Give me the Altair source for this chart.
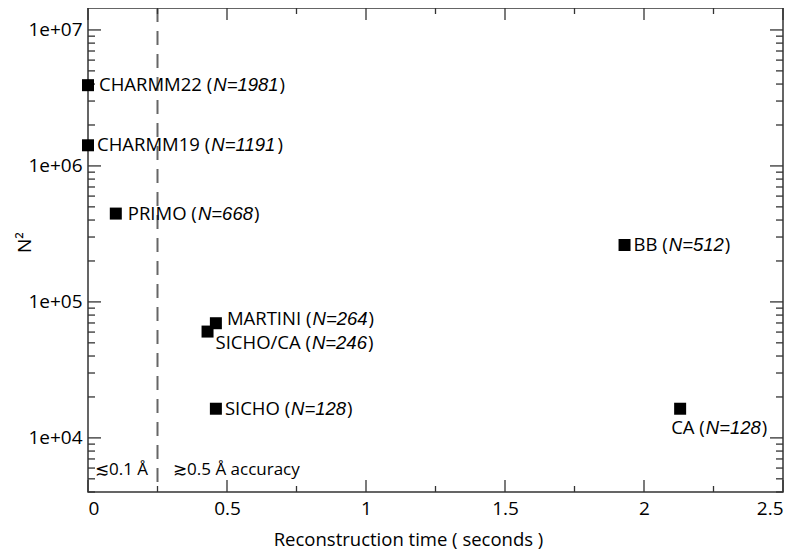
import altair as alt
import pandas as pd

# ---------------- data ----------------
names = ["CHARMM22", "CHARMM19", "PRIMO", "MARTINI", "SICHO/CA", "SICHO", "BB", "CA"]
atoms = [1981, 1191, 668, 264, 246, 128, 512, 128]          # N
times = [0.0, 0.0, 0.1, 0.46, 0.43, 0.46, 1.93, 2.13]        # reconstruction time (s)

y_major = [1e4, 1e5, 1e6, 1e7]
y_minor = [k * 10 ** d for d in range(3, 8) for k in range(2, 10) if 4000 <= k * 10 ** d <= 1.45e7]
x_major = [0, 0.5, 1, 1.5, 2, 2.5]
x_minor = [0.25, 0.75, 1.25, 1.75, 2.25]
cut_x = [0.25]
ann_text = ["≲0.1 Å", "≳0.5 Å accuracy"]
ann_x = [0.025, 0.306]
ann_y = [5800, 5800]

# ---------------- style ----------------
FONT = "Open Sans"
IFONT = "Liberation Sans"
FS = 18.5
W, H = 695, 484

# label offsets (px) : dx, dy
label_off = {
    "CHARMM22": (11, 0), "CHARMM19": (9, 0), "PRIMO": (12, 0), "MARTINI": (11, -4),
    "SICHO/CA": (8, 11), "SICHO": (9, 0), "BB": (9, 0), "CA": (-9, 19),
}

EM = {" ": 0.26, "(": 0.296, ")": 0.296, "/": 0.367, "=": 0.572, "A": 0.633, "B": 0.648,
      "C": 0.631, "H": 0.738, "I": 0.279, "M": 0.903, "N": 0.752, "O": 0.781, "P": 0.602,
      "R": 0.617, "S": 0.539, "T": 0.556}
IEM = {"N": 0.722, "=": 0.584}
def tw(s):
    return sum(EM.get(c, 0.572) for c in s) * FS
def itw(s):
    return sum(IEM.get(c, 0.556) for c in s) * FS

df = pd.DataFrame({"name": names, "N": atoms, "time": times})

xscale = alt.Scale(domain=[0, 2.5], nice=False, zero=False)
yscale = alt.Scale(type="log", domain=[4000, 1.45e7], nice=False)
xaxis = alt.Axis(values=x_major, format="~g", tickSize=0, domain=False, grid=False,
                 labelFont=FONT, labelFontSize=19, labelColor="black", labelPadding=7,
                 title="Reconstruction time ( seconds )", titleFont=FONT, titleFontSize=18.5,
                 titleFontWeight="normal", titleColor="black", titlePadding=12, titleX=320)
yaxis = alt.Axis(values=y_major, labelExpr="replace(format(datum.value, '.0e'), 'e+', 'e+0')",
                 tickSize=0, domain=False, grid=False,
                 labelFont=FONT, labelFontSize=19, labelColor="black", labelPadding=6,
                 title="N²", titleFont=FONT, titleFontSize=19, titleFontWeight="normal",
                 titleColor="black", titleX=-54, titleY=H / 2 - 8)

def X(f):
    return alt.X(f, type="quantitative", scale=xscale, axis=xaxis)
def Y(f):
    return alt.Y(f, type="quantitative", scale=yscale, axis=yaxis)

base = alt.Chart(df).transform_calculate(N2="datum.N * datum.N")

points = base.mark_square(size=144, color="black", opacity=1, clip=False).encode(
    x=X("time"), y=Y("N2"))

layers = [points]
for nm, n in zip(names, atoms):
    dx, dy = label_off[nm]
    pre = nm + " ("
    ital = "N=" + str(n)
    common = dict(fontSize=FS, color="black", align="left", baseline="middle", dy=dy)
    b = base.transform_filter(alt.datum.name == nm).transform_calculate(
        pre="datum.name + ' ('", ital="'N=' + datum.N", suf="')'")
    layers.append(b.mark_text(dx=dx, font=FONT, **common).encode(x=X("time"), y=Y("N2"), text="pre:N"))
    layers.append(b.mark_text(dx=dx + tw(pre) + 1, font=IFONT, fontStyle="italic", fontWeight=400,
                              **common).encode(x=X("time"), y=Y("N2"), text="ital:N"))
    layers.append(b.mark_text(dx=dx + tw(pre) + itw(ital) + 2, font=FONT, **common).encode(
        x=X("time"), y=Y("N2"), text="suf:N"))

# dashed cut line
cut = alt.Chart(pd.DataFrame({"x": cut_x})).mark_rule(
    color="#666666", strokeWidth=2, strokeDash=[14, 9]).encode(x=X("x"))

ann = alt.Chart(pd.DataFrame({"t": ann_text, "x": ann_x, "y": ann_y})).mark_text(
    font=FONT, fontSize=17, color="black", align="left", baseline="middle").encode(
    x=X("x"), y=Y("y"), text="t:N")

# inward ticks
tick_color = "#333333"
ymaj = pd.DataFrame({"v": y_major})
ymin = pd.DataFrame({"v": y_minor})
xmaj = pd.DataFrame({"v": x_major})
xmin = pd.DataFrame({"v": x_minor})
ticks = [
    alt.Chart(ymaj).mark_rule(color=tick_color, strokeWidth=1.3).encode(y=Y("v"), x=alt.value(0), x2=alt.value(13)),
    alt.Chart(ymaj).mark_rule(color=tick_color, strokeWidth=1.3).encode(y=Y("v"), x=alt.value(W), x2=alt.value(W - 13)),
    alt.Chart(ymin).mark_rule(color=tick_color, strokeWidth=1.3).encode(y=Y("v"), x=alt.value(0), x2=alt.value(7)),
    alt.Chart(ymin).mark_rule(color=tick_color, strokeWidth=1.3).encode(y=Y("v"), x=alt.value(W), x2=alt.value(W - 7)),
    alt.Chart(xmaj).mark_rule(color=tick_color, strokeWidth=1.3).encode(x=X("v"), y=alt.value(H), y2=alt.value(H - 12)),
    alt.Chart(xmaj).mark_rule(color=tick_color, strokeWidth=1.3).encode(x=X("v"), y=alt.value(0), y2=alt.value(12)),
    alt.Chart(xmin).mark_rule(color=tick_color, strokeWidth=1.3).encode(x=X("v"), y=alt.value(H), y2=alt.value(H - 6)),
    alt.Chart(xmin).mark_rule(color=tick_color, strokeWidth=1.3).encode(x=X("v"), y=alt.value(0), y2=alt.value(6)),
]

chart = alt.layer(cut, ann, *ticks, *layers).properties(
    width=W, height=H,
    autosize=alt.AutoSizeParams(type="none"),
    padding={"left": 80, "top": 0, "right": 9, "bottom": 60},
    background="white",
).configure_view(stroke="#333333", strokeWidth=1.5)

chart.save("out.html", embed_options={"renderer": "svg", "actions": False})
